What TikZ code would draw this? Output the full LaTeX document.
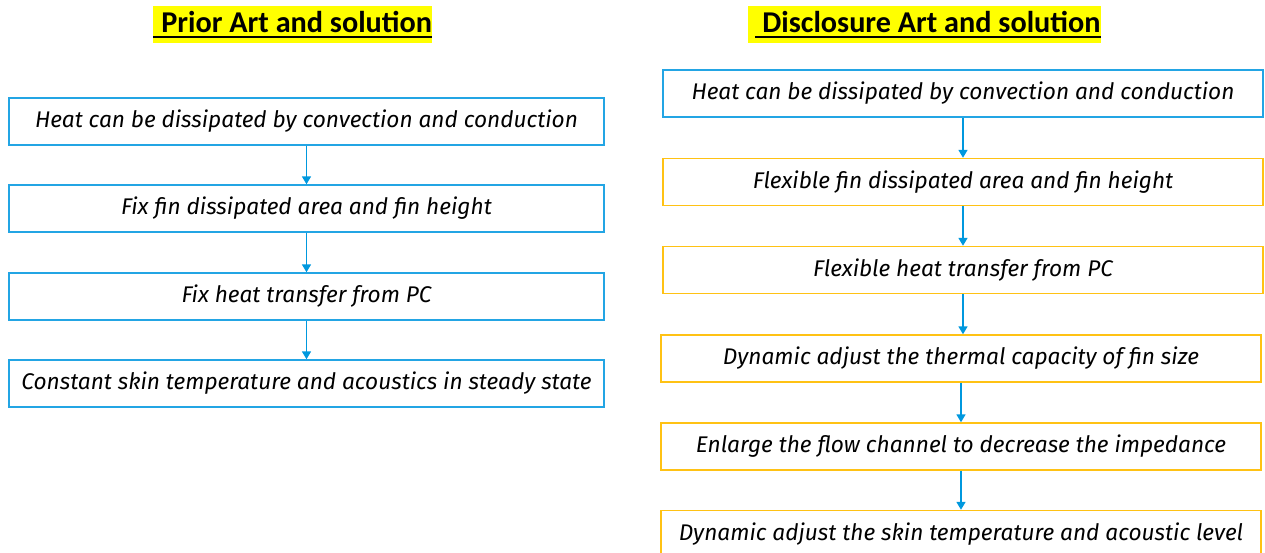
\documentclass[tikz,border=0pt]{standalone}
\usepackage{fontspec}
\setmainfont{Fira Sans}
\newfontfamily\titlefont{Carlito}
\usetikzlibrary{arrows.meta}

\definecolor{boxblue}{RGB}{35,165,228}
\definecolor{boxyellow}{RGB}{255,194,20}
\definecolor{arrowblue}{RGB}{0,152,222}
\definecolor{marker}{RGB}{255,255,0}

% subrayado grueso para los titulos
\newcommand{\tituloul}[1]{\setbox0\hbox{#1}\rlap{\rule[-3.2pt]{\wd0}{1.3pt}}\box0}

\tikzset{
  paso/.style={draw=boxblue, line width=0.8pt, minimum height=0.94cm, inner sep=0pt,
    font=\fontsize{12.9}{14}\selectfont\itshape},
  pasoizq/.style={paso, minimum width=11.9cm},
  pasoder/.style={paso, minimum width=12.0cm},
  amarillo/.style={draw=boxyellow},
  titulo/.style={fill=marker, inner sep=0pt, minimum height=0.74cm, anchor=west,
    font=\titlefont\bfseries\fontsize{17.2}{19}\selectfont},
  flecha/.style={draw=arrowblue, line width=1.1pt, -{Triangle[width=5pt,length=4.5pt]}}
}

\begin{document}
\begin{tikzpicture}[x=0.02cm, y=-0.02cm]
  \useasboundingbox (0,0) rectangle (1265,552);
  \clip (0,0) rectangle (1265,552);

  % Titulos
  \node[titulo] (tizq) at (153,24.5) {\tituloul{\hspace{0.16cm}Prior Art and solution}\hspace{0.26cm}};
  \node[titulo] (tder) at (748,24.5) {\hspace{0.14cm}\tituloul{\hspace{0.14cm}Disclosure Art and solution}};

  % Columna izquierda
  \node[pasoizq] (i1) at (306.5,121.5) {Heat can be dissipated by convection and conduction};
  \node[pasoizq] (i2) at (306.5,208.5) {Fix fin dissipated area and fin height};
  \node[pasoizq] (i3) at (306.5,296.5) {Fix heat transfer from PC};
  \node[pasoizq] (i4) at (306.5,383.5) {Constant skin temperature and acoustics in steady state};

  % Columna derecha
  \node[pasoder] (d1) at (963,93.5) {Heat can be dissipated by convection and conduction};
  \node[pasoder, amarillo] (d2) at (963,182) {Flexible fin dissipated area and fin height};
  \node[pasoder, amarillo] (d3) at (963,270) {Flexible heat transfer from PC};
  \node[pasoder, amarillo] (d4) at (961,358.5) {Dynamic adjust the thermal capacity of fin size};
  \node[pasoder, amarillo] (d5) at (961,446.5) {Enlarge the flow channel to decrease the impedance};
  \node[pasoder, amarillo] (d6) at (961,534) {Dynamic adjust the skin temperature and acoustic level};

  % Flechas
  \draw[flecha] (i1.south) -- (i2.north);
  \draw[flecha] (i2.south) -- (i3.north);
  \draw[flecha] (i3.south) -- (i4.north);

  \draw[flecha] (d1.south) -- (d2.north);
  \draw[flecha] (d2.south) -- (d3.north);
  \draw[flecha] (d3.south) -- (d3.south |- d4.north);
  \draw[flecha] (d4.south) -- (d5.north);
  \draw[flecha] (d5.south) -- (d6.north);
\end{tikzpicture}
\end{document}
